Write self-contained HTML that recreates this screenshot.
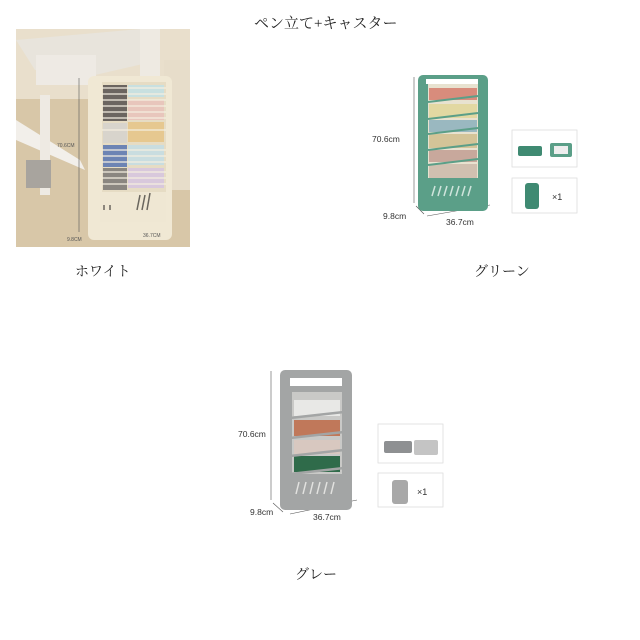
<!DOCTYPE html>
<html><head><meta charset="utf-8"><style>
body{margin:0;width:640px;height:640px;background:#fff;position:relative;overflow:hidden;font-family:"Liberation Serif","Noto Serif CJK SC",serif;}
.t{position:absolute;color:#222;white-space:nowrap;}
svg{position:absolute;left:0;top:0}
</style></head><body>
<svg width="640" height="640" viewBox="0 0 640 640" font-family="Liberation Sans, sans-serif">
<!-- white photo -->
<rect x="16" y="29" width="174" height="218" fill="#d8c7a8"/>
<rect x="16" y="29" width="174" height="70" fill="#e9dfcc"/>
<polygon points="16,40 140,29 160,60 95,75 35,70" fill="#e8e4dc"/>
<rect x="36" y="55" width="60" height="30" fill="#eeeae4"/>
<polygon points="16,120 80,160 85,170 16,140" fill="#f2efea"/>
<rect x="40" y="95" width="10" height="100" fill="#eeeae3"/>
<rect x="26" y="160" width="25" height="28" fill="#a8a49e"/>
<rect x="140" y="29" width="20" height="50" fill="#eeeae2"/>
<rect x="164" y="60" width="26" height="130" fill="#e7ddca"/>
<rect x="88" y="76" width="84" height="164" rx="6" fill="#f0e8d4"/>
<rect x="102" y="82" width="64" height="130" fill="#e6dcc4"/>
<rect x="103" y="85" width="24" height="36" fill="#6b6560"/>
<rect x="128" y="85" width="36" height="12" fill="#c8e0e0"/>
<rect x="128" y="100" width="36" height="20" fill="#e8c6bc"/>
<rect x="103" y="123" width="24" height="20" fill="#d8d4cc"/>
<rect x="128" y="122" width="36" height="20" fill="#e6c890"/>
<rect x="103" y="145" width="24" height="22" fill="#6d84b4"/>
<rect x="128" y="145" width="36" height="20" fill="#c9dde0"/>
<rect x="103" y="168" width="24" height="22" fill="#8a8680"/>
<rect x="128" y="168" width="36" height="20" fill="#d8c8dc"/>
<g stroke="#f4eee0" stroke-width="1.2">
<line x1="102" y1="88" x2="166" y2="88"/><line x1="102" y1="94" x2="166" y2="94"/><line x1="102" y1="100" x2="166" y2="100"/><line x1="102" y1="106" x2="166" y2="106"/><line x1="102" y1="112" x2="166" y2="112"/><line x1="102" y1="118" x2="166" y2="118"/><line x1="102" y1="130" x2="166" y2="130"/><line x1="102" y1="150" x2="166" y2="150"/><line x1="102" y1="156" x2="166" y2="156"/><line x1="102" y1="162" x2="166" y2="162"/><line x1="102" y1="172" x2="166" y2="172"/><line x1="102" y1="178" x2="166" y2="178"/><line x1="102" y1="184" x2="166" y2="184"/>
</g>
<rect x="100" y="192" width="66" height="30" fill="#efe7d3"/>
<g stroke="#6a665e" stroke-width="1.5"><line x1="104" y1="205" x2="104" y2="210"/><line x1="110" y1="205" x2="110" y2="210"/><line x1="140" y1="195" x2="137" y2="210"/><line x1="145" y1="195" x2="142" y2="210"/><line x1="150" y1="193" x2="147" y2="210"/></g>
<line x1="79" y1="78" x2="79" y2="232" stroke="#555" stroke-width="0.6"/>
<text x="57" y="147" font-size="5" fill="#555">70.6CM</text>
<text x="67" y="241" font-size="5" fill="#555">9.8CM</text>
<text x="143" y="237" font-size="5" fill="#555">36.7CM</text>

<!-- green rack -->
<g>
<line x1="414" y1="77" x2="414" y2="203" stroke="#555" stroke-width="0.6"/>
<line x1="416" y1="206" x2="424" y2="214" stroke="#555" stroke-width="0.6"/>
<line x1="427" y1="216" x2="490" y2="205" stroke="#555" stroke-width="0.6"/>
<rect x="418" y="75" width="70" height="136" rx="5" fill="#5b9f88"/>
<rect x="428" y="84" width="50" height="96" fill="#e8e2d0"/>
<rect x="429" y="88" width="48" height="12" fill="#d88c7c"/>
<rect x="429" y="104" width="48" height="14" fill="#e2d8a2"/>
<rect x="429" y="120" width="48" height="12" fill="#9ab8c0"/>
<rect x="429" y="134" width="48" height="14" fill="#d4c498"/>
<rect x="429" y="150" width="48" height="12" fill="#c8a89c"/>
<rect x="429" y="164" width="48" height="14" fill="#d0c0b0"/>
<g stroke="#5b9f88" stroke-width="2"><line x1="428" y1="102" x2="478" y2="96"/><line x1="428" y1="119" x2="478" y2="113"/><line x1="428" y1="134" x2="478" y2="128"/><line x1="428" y1="150" x2="478" y2="144"/><line x1="428" y1="165" x2="478" y2="159"/></g>
<rect x="426" y="178" width="54" height="22" fill="#5b9f88"/>
<g stroke="#cfe4dc" stroke-width="1.5"><line x1="432" y1="196" x2="435" y2="186"/><line x1="438" y1="196" x2="441" y2="186"/><line x1="444" y1="196" x2="447" y2="186"/><line x1="450" y1="196" x2="453" y2="186"/><line x1="456" y1="196" x2="459" y2="186"/><line x1="462" y1="196" x2="465" y2="186"/><line x1="468" y1="196" x2="471" y2="186"/></g>
<rect x="426" y="79" width="52" height="5" fill="#fff"/>
</g>
<text x="372" y="142" font-size="8.5" fill="#333">70.6cm</text>
<text x="383" y="219" font-size="8.5" fill="#333">9.8cm</text>
<text x="446" y="225" font-size="8.5" fill="#333">36.7cm</text>
<rect x="512" y="130" width="65" height="37" fill="#fff" stroke="#ddd" stroke-width="0.8"/>
<rect x="518" y="146" width="24" height="10" rx="2" fill="#3f8a72"/>
<rect x="550" y="143" width="22" height="14" rx="2" fill="#5b9f88"/><rect x="554" y="146" width="14" height="8" fill="#eee"/>
<rect x="512" y="178" width="65" height="35" fill="#fff" stroke="#ddd" stroke-width="0.8"/>
<rect x="525" y="183" width="14" height="26" rx="3" fill="#3f8a72"/>
<text x="552" y="200" font-size="9" fill="#333">×1</text>

<!-- gray rack -->
<line x1="271" y1="371" x2="271" y2="500" stroke="#555" stroke-width="0.6"/>
<line x1="273" y1="503" x2="283" y2="512" stroke="#555" stroke-width="0.6"/>
<line x1="290" y1="514" x2="357" y2="500" stroke="#555" stroke-width="0.6"/>
<rect x="280" y="370" width="72" height="140" rx="5" fill="#a3a5a5"/>
<rect x="290" y="378" width="52" height="8" fill="#fff"/>
<rect x="292" y="392" width="50" height="96" fill="#c9c9c7"/>
<rect x="294" y="400" width="46" height="16" fill="#e8e8e6"/>
<rect x="294" y="420" width="46" height="16" fill="#c0785a"/>
<rect x="294" y="440" width="46" height="14" fill="#d8c8c0"/>
<rect x="294" y="456" width="46" height="16" fill="#2f6b4a"/>
<g stroke="#a3a5a5" stroke-width="2.5"><line x1="290" y1="418" x2="344" y2="412"/><line x1="290" y1="438" x2="344" y2="432"/><line x1="290" y1="456" x2="344" y2="450"/><line x1="290" y1="474" x2="344" y2="468"/></g>
<rect x="290" y="474" width="54" height="24" fill="#a3a5a5"/>
<g stroke="#e2e2e0" stroke-width="1.5"><line x1="296" y1="494" x2="299" y2="482"/><line x1="303" y1="494" x2="306" y2="482"/><line x1="310" y1="494" x2="313" y2="482"/><line x1="317" y1="494" x2="320" y2="482"/><line x1="324" y1="494" x2="327" y2="482"/><line x1="331" y1="494" x2="334" y2="482"/></g>
<text x="238" y="437" font-size="8.5" fill="#333">70.6cm</text>
<text x="250" y="515" font-size="8.5" fill="#333">9.8cm</text>
<text x="313" y="520" font-size="8.5" fill="#333">36.7cm</text>
<rect x="378" y="424" width="65" height="39" fill="#fff" stroke="#ddd" stroke-width="0.8"/>
<rect x="384" y="441" width="28" height="12" rx="2" fill="#8e9092"/>
<rect x="414" y="440" width="24" height="15" rx="2" fill="#c4c4c4"/>
<rect x="378" y="473" width="65" height="34" fill="#fff" stroke="#ddd" stroke-width="0.8"/>
<rect x="392" y="480" width="16" height="24" rx="3" fill="#a8a8a8"/>
<text x="417" y="495" font-size="9" fill="#333">×1</text>
</svg>
<div class="t" style="left:254px;top:12px;font-size:15px;">ペン立て+キャスター</div>
<div class="t" style="left:75px;top:261px;font-size:14px;">ホワイト</div>
<div class="t" style="left:474px;top:261px;font-size:14px;">グリーン</div>
<div class="t" style="left:295px;top:564px;font-size:14px;">グレー</div>
</body></html>
